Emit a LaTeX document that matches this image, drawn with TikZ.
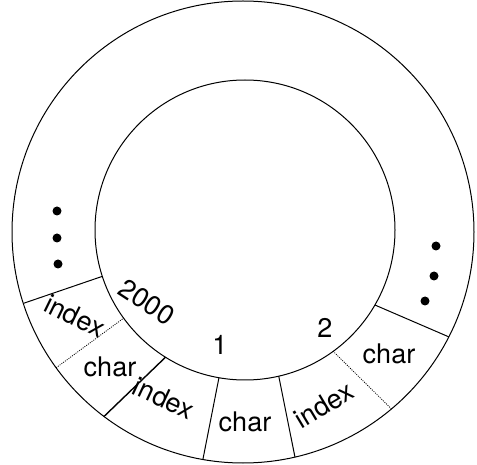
\documentclass[tikz,border=0pt]{standalone}
\usepackage{fontspec}
\setmainfont{TeX Gyre Heros}
\begin{document}
\begin{tikzpicture}[x=1pt, y=1pt,
  ring/.style={line width=1pt},
  sep/.style={line width=1pt},
  heavysep/.style={line width=1.4pt},
  subsep/.style={line width=0.8pt, dash pattern=on 1pt off 1.2pt},
  lbl/.style={font=\fontsize{27}{30}\selectfont, inner sep=0pt},
  dot/.style={circle, fill, inner sep=0pt, minimum size=9pt}
]
  \useasboundingbox (0,0) rectangle (477,464);
  \coordinate (oc) at (243,232);
  \coordinate (ic) at (245,234);
  % the two rings
  \draw[ring] (oc) circle (231);
  \draw[ring] (ic) circle (150);
  % slot boundaries (outer angle / inner angle / style)
  \foreach \a/\b/\s in {198/198/sep, 216/216/subsep, 233/238/heavysep, 260/260/sep,
                        283/283/sep, 310/306/subsep, 333/330/sep}
    \draw[\s] ([shift={(\a:231)}]oc) -- ([shift={(\b:150)}]ic);
  % slot numbers
  \node[lbl, rotate=-33] (n2000) at (147,162) {2000};
  \node[lbl] (n1) at (220,119) {1};
  \node[lbl] (n2) at (325,136) {2};
  % fields
  \node[lbl, rotate=-26] (idx1) at (75,148) {index};
  \node[lbl] (chr1) at (110,97) {char};
  \node[lbl, rotate=-25] (idx2) at (164,66) {index};
  \node[lbl] (chr2) at (245,42) {char};
  \node[lbl, rotate=31] (idx3) at (324,59) {index};
  \node[lbl] (chr3) at (389,110) {char};
  % ellipses
  \node[dot] (ld1) at (57,253) {};
  \node[dot] (ld2) at (57,226) {};
  \node[dot] (ld3) at (58,200) {};
  \node[dot] (rd1) at (436,218) {};
  \node[dot] (rd2) at (434,188) {};
  \node[dot] (rd3) at (425,163) {};
\end{tikzpicture}
\end{document}
